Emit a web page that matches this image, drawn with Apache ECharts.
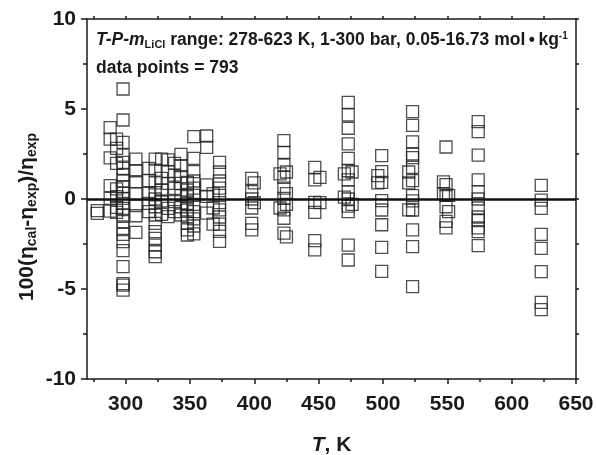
<!DOCTYPE html>
<html>
<head>
<meta charset="utf-8">
<script src="https://cdn.jsdelivr.net/npm/echarts@6/dist/echarts.min.js"></script>
<style>
html, body { margin: 0; padding: 0; background: #fff; }
#chart_1 { width: 596px; height: 455px; }
</style>
</head>
<body>
<div id="chart_1"></div>
<script>
// temperatures (K) of the measured columns and the deviations read at each
var tempK = [278, 288, 293, 298, 308, 318, 323, 328, 333, 338, 343, 348, 353, 363, 368, 373,
             398, 400, 420, 423, 425, 447, 451, 470, 473, 476, 496, 499, 520, 523, 547, 549, 551, 574, 623];
var dev278 = [-0.65, -0.8];
var dev288 = [3.96, 3.33, 2.29, 0.74, 0.04, -0.67];
var dev293 = [3.33, 2.81, 1.98, 0.56, 0.13, -0.46, -0.74];
var dev298 = [6.11, 4.39, 3.15, 2.44, 2.04, 1.7, 1.33, 1.0, 0.68, 0.31, 0.04, -0.24, -0.52, -0.89, -1.26,
              -1.63, -1.96, -2.37, -2.87, -3.76, -4.7, -4.78, -5.06];
var dev308 = [2.22, 1.57, 0.96, 0.28, -0.37, -0.93, -1.85];
var dev318 = [1.7, 1.02, 0.31, -0.24, -0.7];
var dev323 = [2.22, 1.6, 0.9, 0.35, 0.0, -0.43, -0.89, -1.35, -1.81, -2.19, -2.56, -2.93, -3.2];
var dev328 = [2.22, 1.15, 0.5, -0.11, -0.85];
var dev333 = [2.17, 1.52, 0.87, -0.52, -0.98];
var dev338 = [1.98, 1.33, 0.59, -0.15, -0.7];
var dev343 = [2.48, 1.85, 1.24, 0.87, 0.19, -0.43, -0.89];
var dev348 = [0.92, 0.5, 0.13, -0.24, -0.61, -0.98, -1.35, -1.72, -2.0];
var dev353 = [3.46, 2.26, 1.52, 1.0, 0.6, 0.2, -0.3, -0.7, -1.1, -1.5, -1.94];
var dev363 = [3.5, 2.87, 0.78, 0.15, -0.78];
var dev368 = [0.3, -0.5, -1.4];
var dev373 = [2.04, 1.5, 1.0, 0.6, 0.2, -0.2, -0.6, -1.0, -1.4, -1.8, -2.35];
var dev398 = [1.15, 0.41, 0.0, -0.5, -1.35, -1.72];
var dev400 = [0.9, -0.2];
var dev420 = [1.4, -0.5];
var dev423 = [3.24, 2.59, 1.89, 1.2, 0.6, 0.04, -0.6, -1.07, -1.9];
var dev425 = [1.5, 0.3, -0.3, -2.1];
var dev447 = [1.76, 1.06, -0.19, -0.74, -2.31, -2.83];
var dev451 = [1.2, -0.2];
var dev470 = [1.4, 0.1];
var dev473 = [5.37, 4.67, 3.93, 3.06, 2.26, 1.57, 1.06, 0.4, 0.0, -0.4, -0.7, -2.56, -3.39];
var dev476 = [1.5, -0.3];
var dev496 = [0.9, 1.3];
var dev499 = [2.41, 1.52, 0.92, -0.09, -0.61, -1.43, -2.69, -4.02];
var dev520 = [1.5, 0.9, -0.6];
var dev523 = [4.85, 4.09, 3.17, 2.5, 2.3, 1.76, 1.02, 0.19, -0.1, -0.61, -1.72, -2.65, -4.87];
var dev547 = [0.95, 0.3];
var dev549 = [2.89, 0.8, 0.2, -0.43, -1.24, -1.6];
var dev551 = [0.2, -0.7];
var dev574 = [4.3, 3.74, 2.44, 1.06, 0.41, 0.0, -0.5, -1.0, -1.2, -1.6, -1.81, -2.59];
var dev623 = [0.76, -0.06, -0.52, -1.96, -2.74, -4.04, -5.74, -6.15];

var devByTemp = [dev278, dev288, dev293, dev298, dev308, dev318, dev323, dev328, dev333, dev338, dev343,
                 dev348, dev353, dev363, dev368, dev373, dev398, dev400, dev420, dev423, dev425, dev447,
                 dev451, dev470, dev473, dev476, dev496, dev499, dev520, dev523, dev547, dev549, dev551,
                 dev574, dev623];

var xMajorTicks = [300, 350, 400, 450, 500, 550, 600, 650];
var xMinorTicks = [275, 325, 375, 425, 475, 525, 575, 625];
var xTopTicks = [275, 300, 325, 350, 375, 400, 425, 450, 475, 500, 525, 550, 575, 600, 625];

var chart_1 = echarts.init(document.getElementById('chart_1'));

var points = [];
for (var i = 0; i < tempK.length; i++) {
    for (var j = 0; j < devByTemp[i].length; j++) {
        points.push([tempK[i], devByTemp[i][j]]);
    }
}

var ink = '#1a1a1a';
var font = 'Liberation Sans';
var axisLineStyle = { color: ink, width: 1.5 };

chart_1.setOption({
    animation: false,
    backgroundColor: '#fff',
    grid: { left: 87, right: 20, top: 19, bottom: 76, outerBoundsMode: 'none' },
    xAxis: [{
        type: 'value', position: 'bottom', min: 270, max: 650,
        axisLine: { onZero: false, lineStyle: axisLineStyle },
        axisTick: { customValues: xMajorTicks, length: 5, lineStyle: axisLineStyle },
        axisLabel: { customValues: xMajorTicks, margin: 15, fontSize: 21, fontWeight: 'bold', fontFamily: font, color: ink },
        splitLine: { show: false },
        name: '{i|T}, K', nameLocation: 'middle', nameGap: 56,
        nameTextStyle: {
            fontSize: 21, fontWeight: 'bold', fontFamily: font, color: ink,
            rich: { i: { fontSize: 21, fontWeight: 'bold', fontStyle: 'italic', fontFamily: font, color: ink } }
        }
    }, {
        type: 'value', position: 'bottom', min: 270, max: 650,
        axisLine: { show: false, onZero: false },
        axisTick: { customValues: xMinorTicks, length: 3, lineStyle: axisLineStyle },
        axisLabel: { show: false },
        splitLine: { show: false }
    }, {
        type: 'value', position: 'top', min: 270, max: 650,
        axisLine: { onZero: false, lineStyle: axisLineStyle },
        axisTick: { customValues: xTopTicks, length: 3, lineStyle: axisLineStyle },
        axisLabel: { show: false },
        splitLine: { show: false }
    }],
    yAxis: [{
        type: 'value', position: 'left', min: -10, max: 10, interval: 5,
        axisLine: { onZero: false, lineStyle: axisLineStyle },
        axisTick: { length: 6, lineStyle: axisLineStyle },
        minorTick: { show: true, splitNumber: 2, length: 4, lineStyle: axisLineStyle },
        axisLabel: { margin: 11, fontSize: 21, fontWeight: 'bold', fontFamily: font, color: ink },
        splitLine: { show: false }
    }, {
        type: 'value', position: 'right', min: -10, max: 10, interval: 2.5,
        axisLine: { onZero: false, lineStyle: axisLineStyle },
        axisTick: { length: 3, lineStyle: axisLineStyle },
        axisLabel: { show: false },
        splitLine: { show: false }
    }],
    graphic: [{
        // y axis title, placed like the original (a little below the axis centre)
        type: 'text', x: 27, y: 217, rotation: Math.PI / 2,
        style: {
            text: '100(η{sub|cal}-η{sub|exp})/η{sub|exp}',
            x: 0, y: 0, align: 'center', verticalAlign: 'middle',
            font: 'bold 21px "Liberation Sans"', fill: ink,
            rich: {
                sub: { font: 'bold 14px "Liberation Sans"', fill: ink, padding: [10, 0, 0, 0] }
            }
        }
    }, {
        type: 'text', left: 96, top: 31,
        style: {
            text: '{i|T-P-m}{sub|LiCl} range: 278-623 K, 1-300 bar, 0.05-16.73 mol\u2009\u2022\u2009kg{sup|-1}',
            font: 'bold 17.5px "Liberation Sans"', fill: ink,
            rich: {
                i: { font: 'italic bold 17.5px "Liberation Sans"', fill: ink },
                sub: { font: 'bold 11px "Liberation Sans"', fill: ink, padding: [9, 0, 0, 0] },
                sup: { font: 'bold 10px "Liberation Sans"', fill: ink, padding: [0, 0, 9, 0] }
            }
        }
    }, {
        type: 'text', left: 96, top: 59,
        style: { text: 'data points = 793', font: 'bold 17.5px "Liberation Sans"', fill: ink }
    }],
    series: [{
        type: 'scatter',
        xAxisIndex: 0, yAxisIndex: 0,
        data: points,
        symbol: 'rect',
        symbolSize: 12,
        itemStyle: { color: 'rgba(0,0,0,0)', borderColor: '#222', borderWidth: 1.3 },
        markLine: {
            silent: true, symbol: 'none',
            label: { show: false },
            lineStyle: { color: '#111', width: 2.5, type: 'solid' },
            data: [{ yAxis: 0 }]
        }
    }]
});
</script>
</body>
</html>
